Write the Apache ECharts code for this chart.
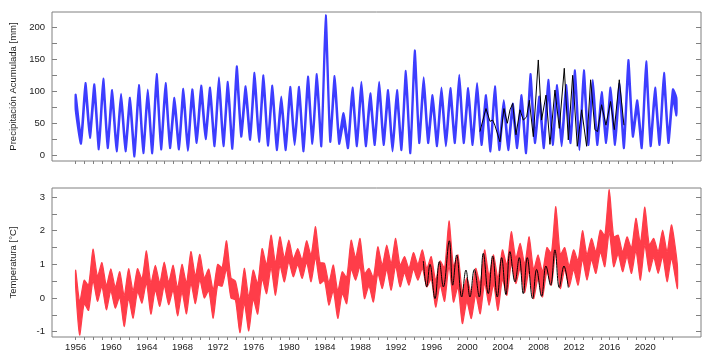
<!DOCTYPE html>
<html>
<head>
<meta charset="utf-8">
<script src="https://cdn.jsdelivr.net/npm/echarts@6/dist/echarts.min.js"></script>
<style>
html,body{margin:0;padding:0;background:#fff;}
#chart{width:714px;height:361px;}
</style>
</head>
<body>
<div id="chart"></div>
<script>
// ---- data ----
const bandYears = [];
for (let y = 1956; y <= 2023; y++) bandYears.push(y);
const tickYears = bandYears.slice();
const labelYears = [1956,1960,1964,1968,1972,1976,1980,1984,1988,1992,1996,2000,2004,2008,2012,2016,2020];
const precipTicks = [0,50,100,150,200];
const precipMinorTicks = [0,25,50,75,100,125,150,175,200];
const tempTicks = [-1,0,1,2,3];
const tempMinorTicks = [-1,-0.5,0,0.5,1,1.5,2,2.5,3];

// Precipitation band: per-year peak (upper / lower edge) and trough (lower / upper edge)
const precipPeakHi = [95,113,111,120,102,96,90,110,103,127,113,90,104,103,109,106,122,115,139,108,129,125,109,92,107,107,123,127,219,124,66,106,115,97,115,102,102,132,164,122,94,106,105,126,105,113,94,108,86,81,94,127,92,118,110,110,133,133,118,99,106,112,149,86,147,106,129,103];
const precipPeakLo = [70,97,95,103,87,82,76,94,88,110,97,76,89,88,93,91,105,99,120,93,111,108,94,78,92,92,106,110,195,107,50,91,99,83,99,87,87,114,143,105,80,91,90,109,90,97,80,93,73,68,80,110,78,101,94,94,115,115,101,85,91,96,129,73,127,91,111,88];
const precipTroughLo = [18,27,9,11,6,6,-2,3,3,9,11,9,7,19,25,14,14,10,29,24,21,15,8,8,16,6,18,14,21,18,11,14,14,16,16,6,8,3,19,19,14,14,19,19,16,16,6,8,8,11,3,19,11,16,14,19,8,16,16,19,16,11,29,11,14,16,19];
const precipTroughHi = [30,38,20,22,17,17,10,14,14,20,22,20,18,30,36,25,25,21,40,35,32,26,19,19,27,17,29,25,32,29,22,25,25,27,27,17,19,14,30,30,25,25,30,30,27,27,17,19,19,22,14,30,22,27,25,30,19,27,27,30,27,22,40,22,25,27,30];
const precipEnd = [2023.5, 62, 90];

// Precipitation black line [year, mm]
const precipObs = [[2001.42,37],[2002.1,73],[2002.55,53],[2002.85,55],[2003.1,47],[2003.67,21],[2004.12,73],[2004.5,50],[2004.8,71],[2005.1,81],[2005.47,32],[2005.92,71],[2006.3,55],[2006.67,60],[2006.97,86],[2007.42,29],[2007.98,149],[2008.35,55],[2008.84,94],[2009.29,17],[2009.85,102],[2010.34,42],[2010.9,136],[2011.35,24],[2011.84,125],[2012.36,14],[2012.85,71],[2013.41,14],[2013.86,118],[2014.34,40],[2014.64,37],[2015.09,79],[2015.58,47],[2016.1,84],[2016.52,40],[2017.08,118],[2017.6,47]];

// Temperature band
const tempPeakHi = [0.83,0.53,1.45,1.05,0.87,0.78,0.87,0.87,1.4,0.97,1.07,0.97,1.0,1.38,1.3,0.86,1.0,1.7,0.5,0.88,0.83,1.47,1.87,1.82,1.72,1.47,1.7,2.12,1.03,0.98,0.78,1.72,1.77,0.88,1.52,1.57,1.77,1.23,1.35,1.43,1.23,1.1,2.29,1.28,0.6,0.88,1.43,1.28,1.43,1.97,1.62,1.82,1.28,1.5,2.72,1.5,1.43,2.0,1.77,2.02,3.22,1.87,1.82,2.37,2.7,1.77,2.02,2.17];
const tempPeakLo = [0.3,-0.17,0.52,0.35,0.21,0.03,-0.01,0.19,0.46,0.24,0.36,0.24,0.17,0.44,0.54,0.22,0.38,0.86,-0.06,-0.16,-0.03,0.57,0.9,0.97,1.08,0.99,1.06,1.2,0.52,0.22,0.14,0.87,0.94,0.36,0.73,0.85,0.95,0.75,0.86,0.88,0.57,0.39,0.97,0.33,-0.11,0.1,0.45,0.41,0.56,1.03,0.89,0.85,0.58,0.79,1.41,0.84,0.84,1.15,1.14,1.37,1.96,1.31,1.23,1.41,1.58,1.21,1.24,1.19];
const tempTroughLo = [-1.1,-0.37,-0.1,-0.35,-0.3,-0.85,-0.6,-0.15,-0.48,-0.25,-0.2,-0.53,-0.47,-0.17,0.0,-0.6,0.35,0.0,-1.03,-0.98,-0.48,0.13,0.08,0.48,0.63,0.58,0.48,0.43,-0.21,-0.61,-0.17,0.53,-0.02,-0.12,0.28,0.23,0.33,0.38,0.53,0.33,-0.27,-0.1,-0.12,-0.76,-0.61,-0.47,-0.22,-0.37,0.08,0.43,0.15,-0.02,0.03,0.38,0.28,0.33,0.38,0.53,0.73,0.93,0.93,0.78,0.73,0.53,0.78,0.73,0.48];
const tempTroughHi = [-0.12,0.38,0.64,0.37,0.32,0.07,0.21,0.56,0.44,0.45,0.47,0.3,0.44,0.66,0.59,0.24,0.9,0.6,-0.08,0.03,0.42,0.98,1.05,1.19,1.16,1.13,1.27,1.06,0.46,0.21,0.61,1.2,0.72,0.61,0.98,1.02,0.97,0.88,1.0,0.88,0.52,0.89,0.93,0.18,0.13,0.42,0.65,0.58,0.97,1.18,1.01,0.84,0.78,1.33,1.29,0.95,1.11,1.28,1.37,1.86,1.82,1.37,1.48,1.63,1.58,1.37,1.37];
const tempEnd = [2023.6, 0.28, 1.0];

// Temperature black line [year, °C]
const tempObs = [[1995.06,1.1],[1995.44,0.33],[1995.81,1.0],[1996.37,-0.02],[1996.86,1.08],[1997.31,0.33],[1997.98,1.7],[1998.36,0.38],[1998.81,1.28],[1999.37,0.03],[1999.85,0.83],[2000.3,0.03],[2000.79,0.85],[2001.35,0.03],[2001.8,1.33],[2002.36,0.13],[2002.85,1.25],[2003.37,0.03],[2003.86,1.2],[2004.34,0.1],[2004.79,1.38],[2005.36,0.48],[2005.84,1.2],[2006.29,0.13],[2006.74,1.2],[2007.34,-0.02],[2007.79,0.85],[2008.35,0.05],[2008.84,0.95],[2009.36,0.38],[2009.85,1.43],[2010.34,0.31],[2010.86,0.95],[2011.35,0.31]];

// ---- build band rows [t, lower, upper] ----
function buildBand(peakHi, peakLo, troughLo, troughHi, peakOff, troughOff, end) {
  const rows = [];
  for (let i = 0; i < bandYears.length; i++) {
    const y = bandYears[i];
    const tp = i === 0 ? y : y + peakOff;
    rows.push([tp, peakLo[i], peakHi[i]]);
    if (i < troughLo.length) rows.push([y + troughOff, troughLo[i], troughHi[i]]);
  }
  rows.push(end.slice());
  return rows;
}
const pRows = buildBand(precipPeakHi, precipPeakLo, precipTroughLo, precipTroughHi, 0.1, 0.6, precipEnd);
const tRows = buildBand(tempPeakHi, tempPeakLo, tempTroughLo, tempTroughHi, -0.05, 0.45, tempEnd);

const BLUE = '#3d3dff';
const RED = '#ff3d49';
const GREY = '#808080';
const TXT = '#222';
const FS = 9.5;
const FONT = 'Liberation Sans, Arial, sans-serif';
const XMIN = 1953.34, XMAX = 2026.26;

function xAxis(gridIndex, showLabels) {
  return {
    type: 'value', gridIndex, min: XMIN, max: XMAX, position: 'bottom',
    axisLine: {show: false, onZero: false}, splitLine: {show: false},
    axisTick: {show: true, inside: false, length: 3, customValues: tickYears, lineStyle: {color: GREY, width: 1}},
    axisLabel: {show: showLabels, customValues: labelYears, margin: 5, fontSize: FS, color: TXT, fontFamily: FONT, formatter: v => String(v)}
  };
}
function yAxisLeft(gridIndex, min, max, major, minor, name) {
  return {
    type: 'value', gridIndex, min, max, position: 'left',
    name, nameLocation: 'middle', nameGap: 34,
    nameTextStyle: {fontSize: FS, color: TXT, fontFamily: FONT},
    axisLine: {show: false, onZero: false}, splitLine: {show: false},
    axisTick: {show: true, inside: true, length: 5, customValues: minor, lineStyle: {color: GREY, width: 1}},
    axisLabel: {show: true, customValues: major, margin: 7, fontSize: FS, color: TXT, fontFamily: FONT, formatter: v => String(v)}
  };
}
function yAxisRight(gridIndex, min, max, minor) {
  return {
    type: 'value', gridIndex, min, max, position: 'right',
    axisLine: {show: false, onZero: false}, splitLine: {show: false},
    axisTick: {show: true, inside: true, length: 5, customValues: minor, lineStyle: {color: GREY, width: 1}},
    axisLabel: {show: false}
  };
}

function bandSeries(color, xi, yi, rows, strokeW) {
  return {
    type: 'custom', xAxisIndex: xi, yAxisIndex: yi, silent: true, z: 2,
    data: rows,
    encode: {x: 0, y: [1, 2]},
    renderItem: function (params, api) {
      if (params.dataIndex !== 0) return null;
      const pts = [];
      for (let i = 0; i < rows.length; i++) pts.push(api.coord([rows[i][0], rows[i][2]]));
      for (let i = rows.length - 1; i >= 0; i--) pts.push(api.coord([rows[i][0], rows[i][1]]));
      return {
        type: 'polygon',
        shape: {points: pts, smooth: 0.2},
        style: {fill: color, stroke: color, lineWidth: strokeW, lineJoin: 'round'}
      };
    }
  };
}

const chart = echarts.init(document.getElementById('chart'), null, {renderer: 'canvas'});
chart.setOption({
  animation: false,
  backgroundColor: '#fff',
  grid: [
    {left: 52, top: 12, width: 649, height: 149, show: true, borderColor: GREY, borderWidth: 1, containLabel: false},
    {left: 52, top: 188, width: 649, height: 149, show: true, borderColor: GREY, borderWidth: 1, containLabel: false}
  ],
  xAxis: [xAxis(0, false), xAxis(1, true)],
  yAxis: [
    yAxisLeft(0, -9, 224, precipTicks, precipMinorTicks, 'Precipitación Acumulada [mm]'),
    yAxisRight(0, -9, 224, precipMinorTicks),
    yAxisLeft(1, -1.16, 3.27, tempTicks, tempMinorTicks, 'Temperatura [°C]'),
    yAxisRight(1, -1.16, 3.27, tempMinorTicks)
  ],
  series: [
    bandSeries(BLUE, 0, 0, pRows, 2),
    {type: 'line', xAxisIndex: 0, yAxisIndex: 0, data: precipObs, symbol: 'none', lineStyle: {color: '#000', width: 1}, z: 5, silent: true},
    bandSeries(RED, 1, 2, tRows, 1.2),
    {type: 'line', xAxisIndex: 1, yAxisIndex: 2, data: tempObs, symbol: 'none', smooth: 0.4, lineStyle: {color: '#000', width: 1}, z: 5, silent: true}
  ]
});
</script>
</body>
</html>
